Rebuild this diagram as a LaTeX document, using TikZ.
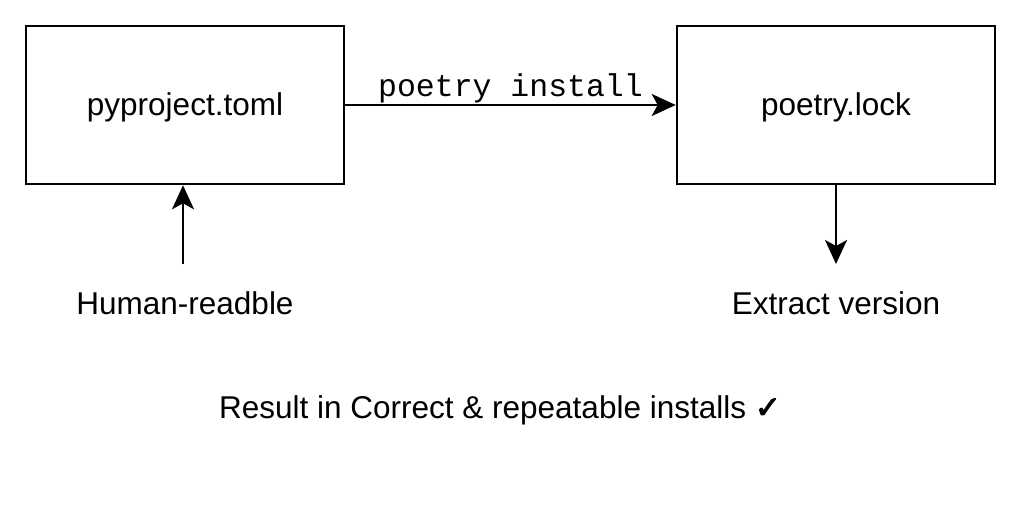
\documentclass[tikz,border=0pt]{standalone}
\usepackage{fontspec}
\setmainfont{Liberation Sans}
\setmonofont{Liberation Mono}
\newfontfamily\symfont[FakeBold=3]{DejaVu Sans}
\usetikzlibrary{arrows.meta}
\tikzset{
  box/.style={draw=black, line width=2.6pt, minimum width=318pt, minimum height=158pt, inner sep=0pt, font=\fontsize{31.5}{36}\selectfont},
  lbl/.style={inner sep=0pt, anchor=base, font=\fontsize{31.5}{36}\selectfont},
  conn/.style={line width=2.6pt, -{Stealth[length=24pt,width=22pt,inset=6pt]}}
}
\begin{document}
\begin{tikzpicture}[x=1pt,y=-1pt]
\useasboundingbox (0,0) rectangle (1024,505);
\fill[white] (0,0) rectangle (1024,505);
\node[box] (py) at (185,105) {};
\node[lbl] (pyt) at (185,116) {pyproject.toml};
\node[box] (lock) at (836,105) {};
\node[lbl] (lockt) at (836,116) {poetry.lock};
\coordinate (hstart) at (183,264);
\coordinate (estop) at (836,264);
\node[lbl] (human) at (185,314) {Human-readble};
\node[lbl] (extract) at (836,314) {Extract version};
\node[lbl] (result) at (500,418) {Result in Correct \& repeatable installs {\symfont\fontsize{31}{34}\selectfont ✓}};
\draw[conn] (py.east) -- (lock.west) node[pos=0.5, lbl, font=\fontsize{31.5}{36}\ttfamily, yshift=8pt] (cmd) {poetry install};
\draw[conn] (hstart) -- (py.south -| hstart);
\draw[conn] (lock.south -| estop) -- (estop);
\end{tikzpicture}
\end{document}
